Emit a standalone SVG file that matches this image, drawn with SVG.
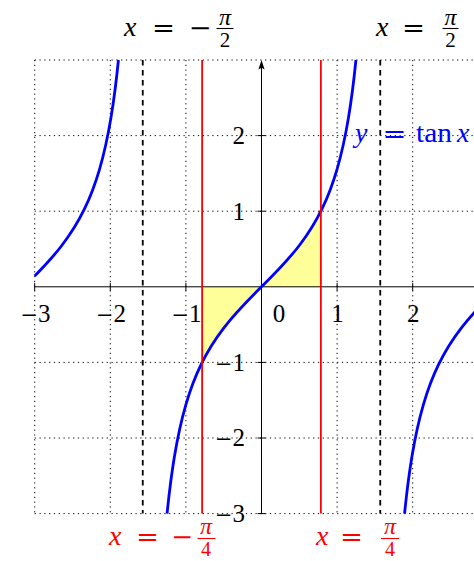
<svg xmlns="http://www.w3.org/2000/svg" width="474" height="561" viewBox="0 0 474 561">
<style>
.grid{stroke:#000;stroke-width:1;stroke-dasharray:1.2 3.6;fill:none}
.axis{stroke:#000;stroke-width:1;fill:none}
.tick{stroke:#000;stroke-width:1}
.asym{stroke:#000;stroke-width:1.8;stroke-dasharray:5.5 4.5;fill:none}
.redl{stroke:#ff0000;stroke-width:1.8;fill:none}
.curve{stroke:#0000ff;stroke-width:2.8;fill:none;stroke-linejoin:round}
.fill{fill:#ffff99;stroke:none}
text{font-family:"Liberation Serif","Times New Roman",serif;font-size:25px;fill:#000}
.big{font-size:28px}
.op{font-family:"DejaVu Serif","Liberation Serif",serif;font-size:24px}
.mn{font-family:"DejaVu Serif","Liberation Serif",serif;font-size:21px}
.it{font-style:italic}
.fr{font-size:21px}
.fr4{font-size:20px}
.pi{font-size:24px;font-style:italic}
.lbl{text-anchor:middle}
.ylbl{text-anchor:end}
.red{fill:#ff0000}
.blue{fill:#0000ff}
.bar{stroke-width:1.1}
</style>
<rect width="474" height="561" fill="#fff"/>
<g id="grid">
<path class="grid" d="M34.7 60V513.6M110.3 60V513.6M185.9 60V513.6M337.1 60V513.6M412.7 60V513.6"/>
<path class="grid" d="M34.7 60H474M34.7 135.6H474M34.7 211.2H474M34.7 362.4H474M34.7 438H474M34.7 513.6H474"/>
</g>
<g id="shading">
<path class="fill" d="M261.5 286.8C274.1 274.2 286.7 261.86 299.3 245.5C306.49 236.16 313.68 225.58 320.88 211.2L320.88 286.8Z"/>
<path class="fill" d="M261.5 286.8C248.9 299.4 236.3 311.74 223.7 328.1C216.51 337.44 209.32 348.02 202.12 362.4L202.12 286.8Z"/>
</g>
<g id="axes">
<path class="axis" d="M34.7 286.8H474"/>
<path class="axis" d="M261.5 513.6V66"/>
<path d="M261.5 60L264.6 69.5L261.5 67.8L258.4 69.5Z" fill="#000"/>
<path class="tick" d="M34.7 282.8v8M110.3 282.8v8M185.9 282.8v8M337.1 282.8v8M412.7 282.8v8M257.5 135.6h8M257.5 211.2h8M257.5 362.4h8M257.5 438h8M257.5 513.6h8"/>
</g>
<g id="tick-labels">
<text class="lbl" x="35.5" y="322"><tspan class="mn">−</tspan>3</text>
<text class="lbl" x="111" y="322"><tspan class="mn">−</tspan>2</text>
<text class="lbl" x="186.5" y="322"><tspan class="mn">−</tspan>1</text>
<text class="lbl" x="279" y="322">0</text>
<text class="lbl" x="337.6" y="322">1</text>
<text class="lbl" x="413.2" y="322">2</text>
<text class="ylbl" x="245" y="144">2</text>
<text class="ylbl" x="245" y="219.6">1</text>
<text class="ylbl" x="245" y="370.8"><tspan class="mn">−</tspan>1</text>
<text class="ylbl" x="245" y="446.4"><tspan class="mn">−</tspan>2</text>
<text class="ylbl" x="245" y="522"><tspan class="mn">−</tspan>3</text>
</g>
<g id="asymptotes">
<path class="asym" d="M142.75 60V513.6"/>
<path class="asym" d="M380.25 60V513.6"/>
</g>
<g id="tan-curve">
<path class="curve" d="M34.7 276.02C43.74 266.81 52.77 257.23 61.8 245.5C69.36 235.68 76.92 224.53 84.48 208.96C89.52 198.58 94.56 186.33 99.6 169.06C103.38 156.11 107.16 140.52 110.94 117.87C113.44 102.91 115.93 84.96 118.43 60"/>
<path class="curve" d="M167.07 513.6C169.57 488.64 172.06 470.69 174.56 455.73C178.34 433.08 182.12 417.49 185.9 404.54C190.94 387.27 195.98 375.02 201.02 364.64C208.58 349.07 216.14 337.92 223.7 328.1C236.3 311.74 248.9 299.4 261.5 286.8C274.1 274.2 286.7 261.86 299.3 245.5C306.86 235.68 314.42 224.53 321.98 208.96C327.02 198.58 332.06 186.33 337.1 169.06C340.88 156.11 344.66 140.52 348.44 117.87C350.94 102.91 353.43 84.96 355.93 60"/>
<path class="curve" d="M404.57 513.6C407.07 488.64 409.56 470.69 412.06 455.73C415.84 433.08 419.62 417.49 423.4 404.54C428.44 387.27 433.48 375.02 438.52 364.64C446.08 349.07 453.64 337.92 461.2 328.1C473.8 311.74 486.4 299.4 499 286.8"/>
</g>
<g id="bounds">
<path class="redl" d="M202.12 60V513.6"/>
<path class="redl" d="M320.88 60V513.6"/>
</g>
<g id="label-left-asym">
<text class="it big" x="124" y="36">x</text>
<text class="lbl op" x="163.5" y="36" textLength="23" lengthAdjust="spacingAndGlyphs">=</text>
<text class="lbl op" x="200" y="36" textLength="23" lengthAdjust="spacingAndGlyphs">−</text>
<text class="lbl pi" x="225" y="25">π</text>
<path class="tick bar" d="M216.5 28.5H233.5"/>
<text class="lbl fr" x="225" y="47">2</text>
</g>
<g id="label-right-asym">
<text class="it big" x="376" y="36">x</text>
<text class="lbl op" x="413.5" y="36" textLength="23" lengthAdjust="spacingAndGlyphs">=</text>
<text class="lbl pi" x="450.5" y="25">π</text>
<path class="tick bar" d="M442.5 28.5H458.5"/>
<text class="lbl fr" x="450.5" y="47">2</text>
</g>
<g id="label-left-bound">
<text class="it big red" x="109" y="545">x</text>
<text class="lbl op red" x="147.5" y="545" textLength="23" lengthAdjust="spacingAndGlyphs">=</text>
<text class="lbl op red" x="182" y="545" textLength="22" lengthAdjust="spacingAndGlyphs">−</text>
<text class="lbl pi red" x="206" y="534">π</text>
<path class="redl bar" d="M197.5 538.5H215.5"/>
<text class="lbl fr4 red" x="206" y="556">4</text>
</g>
<g id="label-right-bound">
<text class="it big red" x="316" y="545">x</text>
<text class="lbl op red" x="351.5" y="545" textLength="23" lengthAdjust="spacingAndGlyphs">=</text>
<text class="lbl pi red" x="390" y="534">π</text>
<path class="redl bar" d="M381 538.5H399"/>
<text class="lbl fr4 red" x="390" y="556">4</text>
</g>
<g id="label-curve">
<text class="it big blue" x="355" y="142">y</text>
<text class="lbl op blue" x="394.5" y="142" textLength="24" lengthAdjust="spacingAndGlyphs">=</text>
<text class="big blue" x="416" y="142" textLength="36" lengthAdjust="spacingAndGlyphs">tan</text>
<text class="it big blue" x="457" y="142">x</text>
</g>
</svg>
